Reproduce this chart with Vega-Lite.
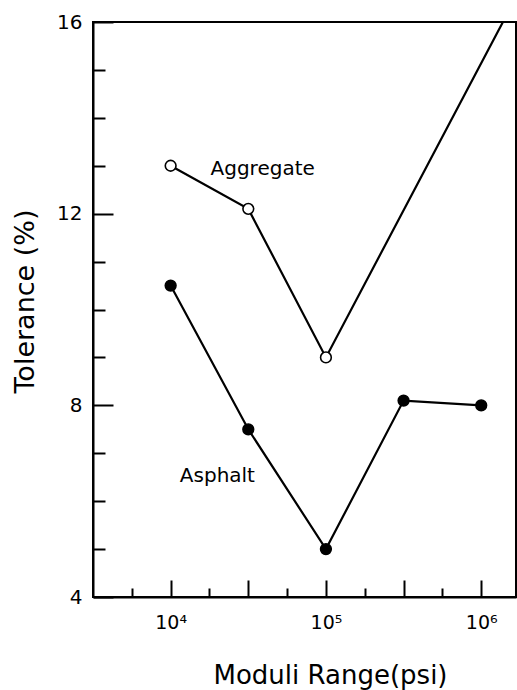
{
  "$schema": "https://vega.github.io/schema/vega-lite/v6.json",
  "width": 423,
  "height": 575,
  "autosize": {"type": "none"},
  "padding": {"left": 93, "top": 22, "right": 1, "bottom": 93},
  "background": "white",
  "config": {
    "view": {"stroke": "black", "strokeWidth": 2},
    "axis": {
      "domainColor": "black", "domainWidth": 2,
      "tickColor": "black", "tickWidth": 2,
      "grid": false,
      "labelFont": "DejaVu Sans", "labelColor": "black",
      "titleFont": "DejaVu Sans", "titleColor": "black", "titleFontWeight": "normal"
    }
  },
  "datasets": {
    "lines": [
      {"series": "Aggregate", "psi": 10000, "tol": 13.0},
      {"series": "Aggregate", "psi": 31622.8, "tol": 12.1},
      {"series": "Aggregate", "psi": 100000, "tol": 9.0},
      {"series": "Aggregate", "psi": 1380000, "tol": 16.0},
      {"series": "Asphalt", "psi": 10000, "tol": 10.5},
      {"series": "Asphalt", "psi": 31622.8, "tol": 7.5},
      {"series": "Asphalt", "psi": 100000, "tol": 5.0},
      {"series": "Asphalt", "psi": 316227.8, "tol": 8.1},
      {"series": "Asphalt", "psi": 1000000, "tol": 8.0}
    ],
    "labels": [
      {"label": "Aggregate", "psi": 18070, "tol": 12.8},
      {"label": "Asphalt", "psi": 11460, "tol": 6.4}
    ]
  },
  "layer": [
    {
      "data": {"name": "lines"},
      "mark": {"type": "line", "color": "black", "strokeWidth": 2.2, "clip": true},
      "encoding": {
        "x": {
          "field": "psi", "type": "quantitative",
          "scale": {"type": "log", "domain": [3162.3, 1675000], "nice": false},
          "axis": {
            "values": [5623.4, 10000, 17782.8, 31622.8, 56234.1, 100000, 177827.9, 316227.8, 562341.3, 1000000],
            "labelExpr": "datum.value == 10000 ? '10⁴' : datum.value == 100000 ? '10⁵' : datum.value == 1000000 ? '10⁶' : ''",
            "tickSize": {"condition": {"test": "abs(log(datum.value)/LN10*2 - round(log(datum.value)/LN10*2)) < 0.01", "value": -17}, "value": -9},
            "labelFontSize": 19,
            "labelPadding": 33,
            "labelFlush": false,
            "labelOverlap": false,
            "title": "Moduli Range(psi)",
            "titleFontSize": 26,
            "titlePadding": 22,
            "titleX": 237,
            "titleAlign": "center"
          }
        },
        "y": {
          "field": "tol", "type": "quantitative",
          "scale": {"domain": [4, 16], "nice": false, "zero": false},
          "axis": {
            "values": [4, 5, 6, 7, 8, 9, 10, 11, 12, 13, 14, 15, 16],
            "labelExpr": "datum.value % 4 === 0 ? datum.label : ''",
            "tickSize": {"condition": {"test": "datum.value % 4 === 0", "value": -20}, "value": -12},
            "labelFontSize": 20,
            "labelPadding": 31,
            "labelFlush": false,
            "labelOverlap": false,
            "title": "Tolerance (%)",
            "titleFontSize": 27,
            "titlePadding": 17,
            "titleY": 279,
            "titleAlign": "center"
          }
        },
        "detail": {"field": "series"}
      }
    },
    {
      "data": {"name": "lines"},
      "transform": [{"filter": "datum.psi <= 1000000"}],
      "mark": {"type": "point", "shape": "circle", "size": 115, "strokeWidth": 1.6, "opacity": 1},
      "encoding": {
        "x": {"field": "psi", "type": "quantitative"},
        "y": {"field": "tol", "type": "quantitative"},
        "fill": {"field": "series", "type": "nominal", "scale": {"domain": ["Aggregate", "Asphalt"], "range": ["white", "black"]}, "legend": null},
        "stroke": {"value": "black"}
      }
    },
    {
      "data": {"name": "labels"},
      "mark": {"type": "text", "align": "left", "baseline": "alphabetic", "font": "DejaVu Sans", "fontSize": 20, "color": "black"},
      "encoding": {
        "x": {"field": "psi", "type": "quantitative"},
        "y": {"field": "tol", "type": "quantitative"},
        "text": {"field": "label"}
      }
    }
  ]
}
